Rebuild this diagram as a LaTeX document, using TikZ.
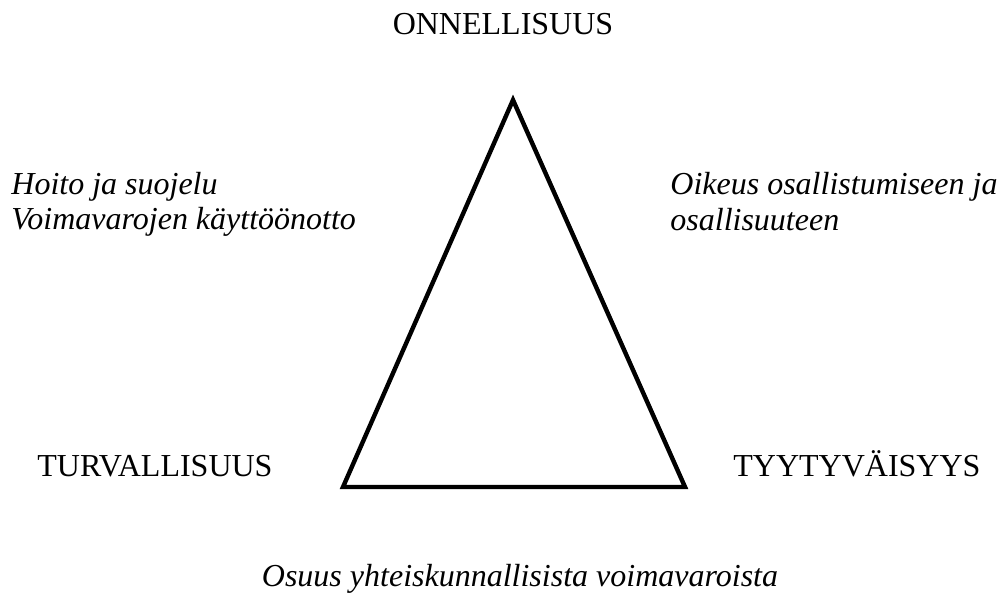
\documentclass[tikz,border=0pt]{standalone}
\usepackage{fontspec}
\setmainfont{Liberation Serif}
\begin{document}
\begin{tikzpicture}[x=0.5pt,y=-0.5pt,
  every node/.style={font=\fontsize{16}{19}\selectfont, inner sep=0pt},
  goal/.style={anchor=base},
  means/.style={anchor=base west, font=\fontsize{16}{19}\selectfont\itshape}]
\useasboundingbox (0,0) rectangle (1004,598);
\coordinate (apex) at (513,100);
\coordinate (bl) at (343,487);
\coordinate (br) at (685,487);
\draw[line width=2.2pt] (apex) -- (bl) -- (br) -- cycle;
\node[goal] (onn) at (503,35) {ONNELLISUUS};
\node[goal, anchor=base west] (turva) at (37,476) {TURVALLISUUS};
\node[goal, anchor=base west] (tyyty) at (733,476) {TYYTYVÄISYYS};
\node[means] (hoito) at (11,195) {Hoito ja suojelu};
\node[means] (voima) at (11,230) {Voimavarojen käyttöönotto};
\node[means] (oikeus) at (670,195) {Oikeus osallistumiseen ja};
\node[means] (osall) at (670,231) {osallisuuteen};
\node[means, anchor=base] (osuus) at (520,586) {Osuus yhteiskunnallisista voimavaroista};
\end{tikzpicture}
\end{document}
